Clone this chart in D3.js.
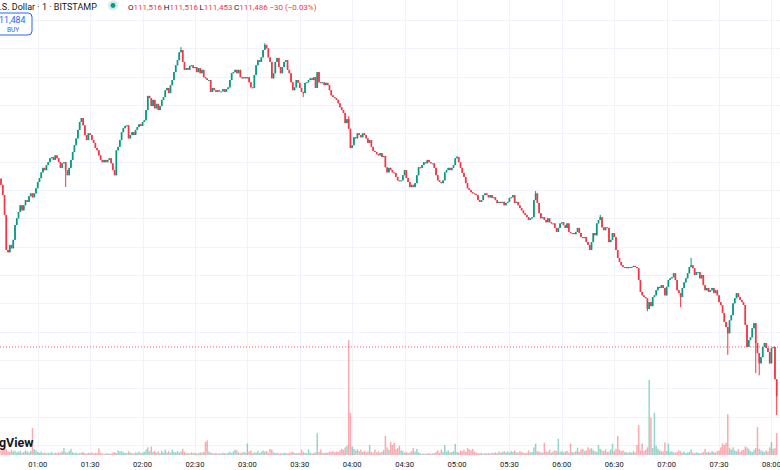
<!DOCTYPE html>
<html><head><meta charset="utf-8">
<script src="https://cdn.jsdelivr.net/npm/d3@7"></script>
<style>html,body{margin:0;padding:0;background:#fff;overflow:hidden}svg{display:block}</style>
</head><body>
<script>
// ---------- DATA ----------
const symbolLabel = "Bitcoin / U.S. Dollar · 1 · BITSTAMP";
const startTime = "00:39";           // time of first 1-minute candle
const firstOpen = 111870;
const closes = [
111859,111841,111806,111744,111740,111753,111747,111762,111788,111800,
111811,111823,111814,111823,111832,111829,111839,111844,111837,111844,
111853,111864,111871,111881,111889,111885,111894,111899,111906,111908,
111903,111911,111906,111899,111889,111897,111899,111885,111876,111889,
111903,111917,111929,111941,111956,111970,111977,111964,111947,111938,
111950,111947,111938,111933,111924,111920,111911,111903,111899,111903,
111899,111903,111906,111897,111885,111876,111920,111926,111938,111952,
111959,111963,111964,111941,111947,111952,111947,111956,111961,111966,
111963,111970,111973,111991,112016,112012,111998,112009,111994,112002,
111991,111998,112009,112014,112026,112030,112021,112035,112044,112058,
112070,112079,112093,112097,112076,112062,112065,112062,112069,112070,
112065,112067,112058,112065,112056,112062,112049,112047,112044,112044,
112023,112030,112026,112023,112026,112024,112024,112028,112023,112028,
112031,112044,112056,112058,112062,112056,112062,112049,112047,112049,
112047,112049,112040,112031,112030,112053,112070,112079,112076,112084,
112097,112106,112100,112084,112076,112047,112056,112076,112083,112067,
112056,112067,112076,112079,112062,112056,112040,112026,112031,112044,
112039,112030,112023,112021,112039,112040,112044,112047,112044,112049,
112030,112058,112040,112039,112040,112035,112039,112035,112026,112017,
112014,112012,112009,112003,111996,111991,111986,111968,111975,111958,
111924,111929,111943,111941,111950,111947,111943,111950,111947,111941,
111933,111938,111926,111919,111917,111913,111911,111915,111908,111910,
111890,111881,111889,111885,111881,111880,111873,111867,111866,111867,
111876,111885,111871,111864,111855,111859,111855,111862,111876,111890,
111889,111894,111899,111897,111903,111899,111897,111897,111889,111876,
111867,111864,111862,111867,111881,111885,111889,111885,111889,111894,
111906,111908,111899,111889,111880,111873,111862,111853,111850,111846,
111844,111843,111841,111832,111829,111832,111841,111844,111841,111837,
111841,111836,111837,111832,111827,111829,111827,111829,111823,111827,
111829,111836,111837,111841,111827,111829,111823,111818,111814,111809,
111806,111802,111797,111800,111802,111832,111844,111827,111809,111800,
111802,111797,111793,111800,111793,111791,111791,111783,111776,111783,
111791,111793,111788,111783,111791,111776,111774,111774,111772,111776,
111783,111774,111767,111765,111767,111758,111753,111744,111758,111774,
111770,111791,111797,111802,111784,111779,111784,111783,111758,111762,
111774,111767,111744,111730,111723,111717,111714,111714,111712,111714,
111714,111714,111716,111714,111712,111691,111670,111664,111661,111659,
111640,111652,111645,111661,111664,111673,111679,111677,111682,111677,
111664,111679,111691,111694,111696,111703,111691,111673,111668,111661,
111677,111687,111694,111703,111714,111717,111712,111700,111705,111705,
111694,111700,111682,111673,111677,111670,111673,111677,111668,111673,
111664,111652,111647,111633,111617,111608,111597,111620,111629,111650,
111659,111668,111661,111656,111652,111647,111612,111573,111585,111590,
111606,111615,111580,111562,111544,111555,111573,111580,111571,111564,
111544,111571,111573,111516,111486
];
// notable wicks beyond the candle body: [candle index, price]
const wickHighs = [[103,112102],[151,112109],[199,111980],[261,111910],[306,111848],[343,111806],[395,111730]];
const wickLows  = [[37,111855],[173,112014],[370,111636],[389,111643],[416,111559],[432,111527],[434,111523],[444,111453]];
const volumes = [
1.2,1.8,2.0,1.5,1.0,0.8,1.4,0.9,1.1,0.7,
0.9,1.0,0.6,0.8,1.2,0.9,0.7,1.0,7.0,1.5,
1.2,0.8,0.6,0.9,0.5,0.7,0.4,0.6,0.5,0.8,
0.4,0.6,0.5,0.7,0.6,0.9,1.8,0.8,0.6,1.0,
1.6,0.7,0.5,0.6,0.4,0.5,0.6,0.8,0.5,0.4,
0.6,0.5,0.7,0.4,0.6,0.5,1.7,0.6,0.4,0.3,
0.4,0.5,0.3,0.4,0.6,0.8,0.5,1.2,0.9,1.0,
0.7,0.6,0.5,1.0,0.6,0.5,0.4,0.7,0.6,0.9,
0.5,0.6,0.8,1.4,2.0,1.0,2.2,0.8,1.1,0.6,
0.9,0.5,1.1,0.6,1.4,0.7,1.0,0.6,1.3,0.8,
0.7,1.0,0.6,0.9,1.6,0.8,0.5,0.6,0.4,0.7,
0.5,0.6,0.4,0.5,0.7,0.6,0.8,3.4,3.8,0.9,
0.6,0.5,0.4,0.6,0.3,0.5,0.4,0.6,0.5,0.4,
0.6,0.8,0.5,1.0,1.4,1.2,0.7,0.5,0.6,0.8,
0.6,3.0,0.9,1.2,0.5,0.7,0.6,1.0,0.5,0.8,
1.2,0.9,1.0,0.6,1.6,1.4,0.7,0.5,0.6,0.4,
0.5,0.4,0.6,0.5,0.4,0.6,0.7,0.8,0.5,0.4,
0.6,0.5,1.4,0.8,0.6,0.5,1.5,0.6,0.4,0.5,
0.7,5.7,0.8,1.4,0.6,0.5,0.7,0.6,0.9,0.8,
1.0,0.7,0.9,0.8,1.2,1.6,1.4,2.0,2.4,30.0,
11.0,2.2,1.6,1.2,1.5,1.0,1.4,0.8,1.1,0.7,
0.9,2.6,0.8,0.6,1.4,0.7,1.0,0.6,0.8,1.3,
5.0,2.0,1.4,3.4,2.6,3.2,1.5,1.8,2.4,1.2,
1.0,0.6,0.8,0.5,0.7,1.0,1.8,0.9,1.6,0.7,
0.5,0.3,0.4,0.3,0.4,0.5,0.3,0.4,0.5,0.8,
1.2,0.6,1.4,0.8,2.6,0.9,1.2,0.7,0.8,1.0,
2.9,0.8,0.6,1.2,1.0,1.4,0.8,1.8,1.5,1.2,
1.6,0.9,0.6,0.5,0.4,0.6,0.3,0.5,0.4,0.5,
0.4,0.6,0.5,0.7,0.5,0.9,0.6,0.8,1.0,0.7,
0.9,0.6,1.0,0.8,1.2,0.7,0.6,1.0,0.8,0.6,
0.5,0.6,1.2,0.7,0.8,2.0,3.0,1.0,0.9,0.7,
0.6,3.2,1.0,0.8,1.4,0.6,0.9,1.2,1.0,4.2,
0.8,1.0,0.7,0.9,1.1,0.6,3.0,0.8,0.7,1.0,
1.9,0.8,1.4,1.6,1.0,1.2,2.0,1.5,1.8,1.2,
1.0,0.8,2.6,1.6,1.2,1.0,1.5,0.8,0.9,1.4,
3.0,1.0,1.6,5.0,1.4,1.0,1.2,0.8,0.7,0.6,
0.8,0.6,1.0,0.7,2.6,7.8,1.2,3.0,1.0,1.4,
2.0,19.6,9.7,1.8,11.0,2.4,1.6,1.2,1.0,0.9,
3.3,1.0,3.0,0.8,1.0,0.7,0.6,0.8,1.2,1.0,
0.6,0.9,0.5,0.7,0.8,1.4,0.6,0.5,0.7,0.6,
0.5,0.6,0.8,1.6,0.7,0.9,0.6,1.0,0.8,0.6,
1.0,1.2,2.0,3.0,2.6,3.2,10.7,1.8,1.4,2.0,
1.2,1.0,1.6,0.8,1.2,1.4,2.2,2.0,1.6,1.0,
0.8,1.4,1.8,7.3,1.6,1.2,1.0,0.8,1.2,0.9,
2.0,3.4,1.6,1.8,5.7
];
const timeTickLabels = ["01:00","01:30","02:00","02:30","03:00","03:30","04:00","04:30",
  "05:00","05:30","06:00","06:30","07:00","07:30","08:00"];
const priceGridStep = 50;
const refPrice = 111573;   // dotted reference line
const buyPrice = 111484;

// ---------- BUILD ----------
const W = 780, H = 470;
const UP = "#089981", DOWN = "#f23645", TEXT = "#131722", GRID = "#f0f3fa";
const parseHM = d3.timeParse("%H:%M");
const t0 = parseHM(startTime);
const candles = closes.map((c, i) => {
  const o = i === 0 ? firstOpen : closes[i - 1];
  return { t: d3.timeMinute.offset(t0, i), o, c, h: Math.max(o, c), l: Math.min(o, c), v: volumes[i] };
});
wickHighs.forEach(([i, p]) => candles[i].h = Math.max(candles[i].h, p));
wickLows.forEach(([i, p]) => candles[i].l = Math.min(candles[i].l, p));

const x = d3.scaleTime()
  .domain([parseHM("00:38"), parseHM("08:05")])
  .range([-0.7, 780.2]);
const y = d3.scaleLinear().domain([111500, 112100]).range([388.3, 48.3]);
const vy = d3.scaleLinear().domain([0, 30]).range([455, 340]);

const svg = d3.select("body").append("svg").attr("width", W).attr("height", H)
  .style("font-family", "Roboto, 'Liberation Sans', sans-serif");
svg.append("rect").attr("width", W).attr("height", H).attr("fill", "#fff");

// grid
const priceLevels = d3.range(111400, 112250, priceGridStep).filter(p => y(p) > 0 && y(p) < 455);
svg.append("g").selectAll("line").data(priceLevels).join("line")
  .attr("x1", 0).attr("x2", W).attr("y1", d => Math.round(y(d)) + 0.5).attr("y2", d => Math.round(y(d)) + 0.5)
  .attr("stroke", GRID).attr("stroke-width", 1);
const tickTimes = timeTickLabels.map(parseHM);
svg.append("g").selectAll("line").data(tickTimes).join("line")
  .attr("x1", d => Math.round(x(d)) + 0.5).attr("x2", d => Math.round(x(d)) + 0.5)
  .attr("y1", 0).attr("y2", 456)
  .attr("stroke", GRID).attr("stroke-width", 1);

// volume bars
const bw = 1.7;
svg.append("g").selectAll("rect").data(candles).join("rect")
  .attr("x", d => x(d.t) - 0.75).attr("width", 1.5)
  .attr("y", d => vy(d.v)).attr("height", d => vy(0) - vy(d.v))
  .attr("fill", d => d.c >= d.o ? UP : DOWN).attr("fill-opacity", 0.42);

// reference dotted line
svg.append("line").attr("x1", 0).attr("x2", W)
  .attr("y1", y(refPrice)).attr("y2", y(refPrice))
  .attr("stroke", DOWN).attr("stroke-width", 1).attr("stroke-dasharray", "1,2").attr("opacity", 0.8);

// candles
const cg = svg.append("g");
cg.selectAll("line").data(candles).join("line")
  .attr("x1", d => x(d.t)).attr("x2", d => x(d.t))
  .attr("y1", d => y(d.h)).attr("y2", d => y(d.l))
  .attr("stroke", d => d.c >= d.o ? UP : DOWN).attr("stroke-width", 1);
cg.selectAll("rect").data(candles).join("rect")
  .attr("x", d => x(d.t) - bw / 2).attr("width", bw)
  .attr("y", d => y(Math.max(d.o, d.c)))
  .attr("height", d => Math.max(1, Math.abs(y(d.o) - y(d.c))))
  .attr("fill", d => d.c >= d.o ? UP : DOWN);

// time axis labels
svg.append("g").selectAll("text").data(timeTickLabels).join("text")
  .attr("x", d => x(parseHM(d))).attr("y", 466.5)
  .attr("text-anchor", "middle").attr("font-size", 7.6).attr("fill", TEXT)
  .text(d => d);

// header legend
const last = candles[candles.length - 1];
const prev = candles[candles.length - 2];
const fmt = d3.format(",");
svg.append("text").attr("x", 96.8).attr("y", 10).attr("text-anchor", "end")
  .attr("font-size", 9).attr("fill", TEXT).text(symbolLabel);
svg.append("circle").attr("cx", 113).attr("cy", 5.5).attr("r", 5).attr("fill", UP).attr("fill-opacity", 0.18);
svg.append("circle").attr("cx", 113).attr("cy", 5.5).attr("r", 2.4).attr("fill", UP);
const leg = svg.append("text").attr("x", 128).attr("y", 10).attr("font-size", 8).attr("fill", TEXT);
const col = last.c >= last.o ? UP : DOWN;
[["O", last.o], ["H", last.h], ["L", last.l], ["C", last.c]].forEach(([k, v], i) => {
  leg.append("tspan").attr("dx", i ? 1.6 : 0).text(k);
  leg.append("tspan").attr("fill", col).text(fmt(v));
});
const chg = last.c - prev.c;
leg.append("tspan").attr("dx", 1.6).attr("fill", col)
  .text(`${chg < 0 ? "−" : "+"}${Math.abs(chg)} (${chg < 0 ? "−" : "+"}${Math.abs(chg / prev.c * 100).toFixed(2)}%)`);

// buy box
svg.append("rect").attr("x", -6).attr("y", 13).attr("width", 38).attr("height", 22).attr("rx", 4)
  .attr("fill", "#fff").attr("stroke", "#2962ff").attr("stroke-width", 1);
svg.append("text").attr("x", 25.5).attr("y", 23).attr("text-anchor", "end")
  .attr("font-size", 8.8).attr("fill", "#2962ff").text(fmt(buyPrice));
svg.append("text").attr("x", 13).attr("y", 31.5).attr("text-anchor", "middle")
  .attr("font-size", 6.5).attr("fill", "#2962ff").text("BUY");

// watermark logo
svg.append("text").attr("x", 33.5).attr("y", 446.5).attr("text-anchor", "end")
  .attr("font-size", 12.5).attr("font-weight", 700).attr("fill", TEXT).text("TradingView");
</script>
</body></html>
